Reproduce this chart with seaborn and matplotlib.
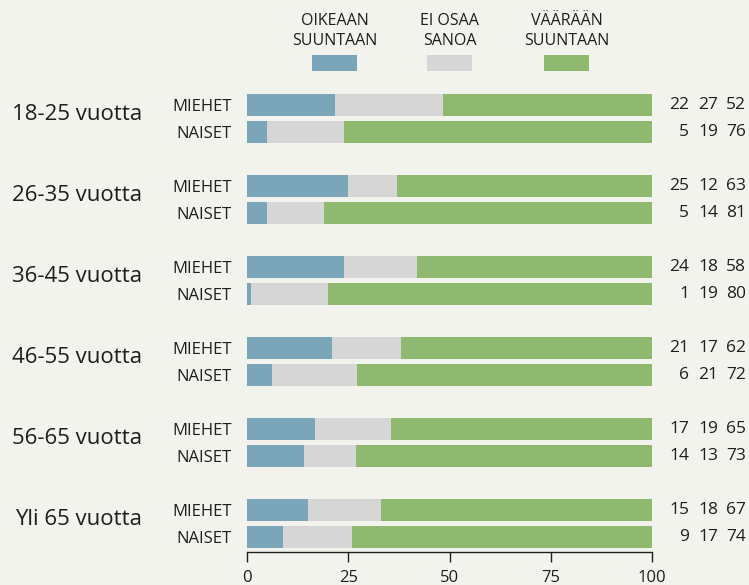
import matplotlib
matplotlib.use("Agg")
import matplotlib.pyplot as plt
from matplotlib.patches import Rectangle
from matplotlib.transforms import blended_transform_factory
import pandas as pd
import seaborn as sns

# data (percent)
groups = ["18-25 vuotta", "26-35 vuotta", "36-45 vuotta",
          "46-55 vuotta", "56-65 vuotta", "Yli 65 vuotta"]
sexes = ["MIEHET", "NAISET"]
series = ["OIKEAAN\nSUUNTAAN", "EI OSAA\nSANOA", "VÄÄRÄÄN\nSUUNTAAN"]

oikeaan_m = [22, 25, 24, 21, 17, 15]
eiosaa_m = [27, 12, 18, 17, 19, 18]
vaaraan_m = [52, 63, 58, 62, 65, 67]
oikeaan_n = [5, 5, 1, 6, 14, 9]
eiosaa_n = [19, 14, 19, 21, 13, 17]
vaaraan_n = [76, 81, 80, 72, 73, 74]
xticks = [0, 25, 50, 75, 100]

BG = "#f3f3ee"
TXT = "#1e1e1e"
colors = ["#7ba5b9", "#d6d6d6", "#8fb96f"]

sns.set_style("white", {"axes.facecolor": BG, "figure.facecolor": BG})
plt.rcParams["font.family"] = ["Open Sans", "DejaVu Sans"]
plt.rcParams["text.color"] = TXT

rows = []
for g, a, b, c, d, e, f in zip(groups, oikeaan_m, eiosaa_m, vaaraan_m,
                               oikeaan_n, eiosaa_n, vaaraan_n):
    rows.append({"group": g, "sex": sexes[0], "o": a, "e": b, "v": c})
    rows.append({"group": g, "sex": sexes[1], "o": d, "e": e, "v": f})
df = pd.DataFrame(rows)
df["row"] = df["group"] + "|" + df["sex"]
# rounded shares don't always add to 100, so stack them as a share of the total
tot = df["o"] + df["e"] + df["v"]
df["c1"] = df["o"] / tot * 100
df["c2"] = (df["o"] + df["e"]) / tot * 100
df["c3"] = tot / tot * 100

# category order, with an empty slot between age groups
order = []
for i, g in enumerate(groups):
    order += [g + "|" + s for s in sexes]
    if i < len(groups) - 1:
        order.append("gap%d" % i)

W, H = 749, 585
fig = plt.figure(figsize=(W / 100, H / 100), dpi=100)
ax = fig.add_axes([247 / W, (H - 552) / H, 405 / W, (552 - 90) / H])

for col, c in zip(["c3", "c2", "c1"], colors[::-1]):
    sns.barplot(data=df, x=col, y="row", order=order, orient="h", color=c,
                saturation=1, width=0.8, errorbar=None, linewidth=0, ax=ax)

ax.set_xlim(0, 100)
ax.set_ylim(len(order) - 0.45, -0.56)
ax.set_xticks(xticks)
ax.set_xlabel("")
ax.set_ylabel("")
ax.set_yticks(range(len(order)))
ax.set_yticklabels([r.split("|")[1] if "|" in r else "" for r in order])
ax.tick_params(axis="y", length=0, pad=11, labelsize=12, labelcolor=TXT)
ax.tick_params(axis="x", length=7, width=1, color=TXT, pad=6,
               labelsize=12, labelcolor=TXT, bottom=True)
for s in ["top", "right", "left"]:
    ax.spines[s].set_visible(False)
ax.spines["bottom"].set_color(TXT)
ax.spines["bottom"].set_linewidth(1)

trans = blended_transform_factory(fig.transFigure, ax.transData)
pos = {r: i for i, r in enumerate(order)}

# age group labels
for g in groups:
    y = pos[g + "|" + sexes[0]] + 0.56
    ax.text(142 / W, y, g, transform=trans, ha="right", va="baseline",
            fontsize=16, color=TXT)

# value columns on the right
num_x = [689, 718, 746]
for _, r in df.iterrows():
    y = pos[r["row"]]
    for xp, val in zip(num_x, [r["o"], r["e"], r["v"]]):
        ax.text(xp / W, y, str(val), transform=trans, ha="right",
                va="center", fontsize=12.5, color=TXT)

# legend on top
leg_x = [334.5, 449.5, 566.5]
for xc, lab, c in zip(leg_x, series, colors):
    l1, l2 = lab.split("\n")
    fig.text(xc / W, 1 - 25 / H, l1, ha="center", va="baseline", fontsize=11.5, color=TXT)
    fig.text(xc / W, 1 - 45 / H, l2, ha="center", va="baseline", fontsize=11.5, color=TXT)
    fig.add_artist(Rectangle(((xc - 22.5) / W, 1 - 71 / H), 45 / W, 16 / H,
                             transform=fig.transFigure, color=c, lw=0))

fig.savefig("out.png", dpi=100, facecolor=BG)
